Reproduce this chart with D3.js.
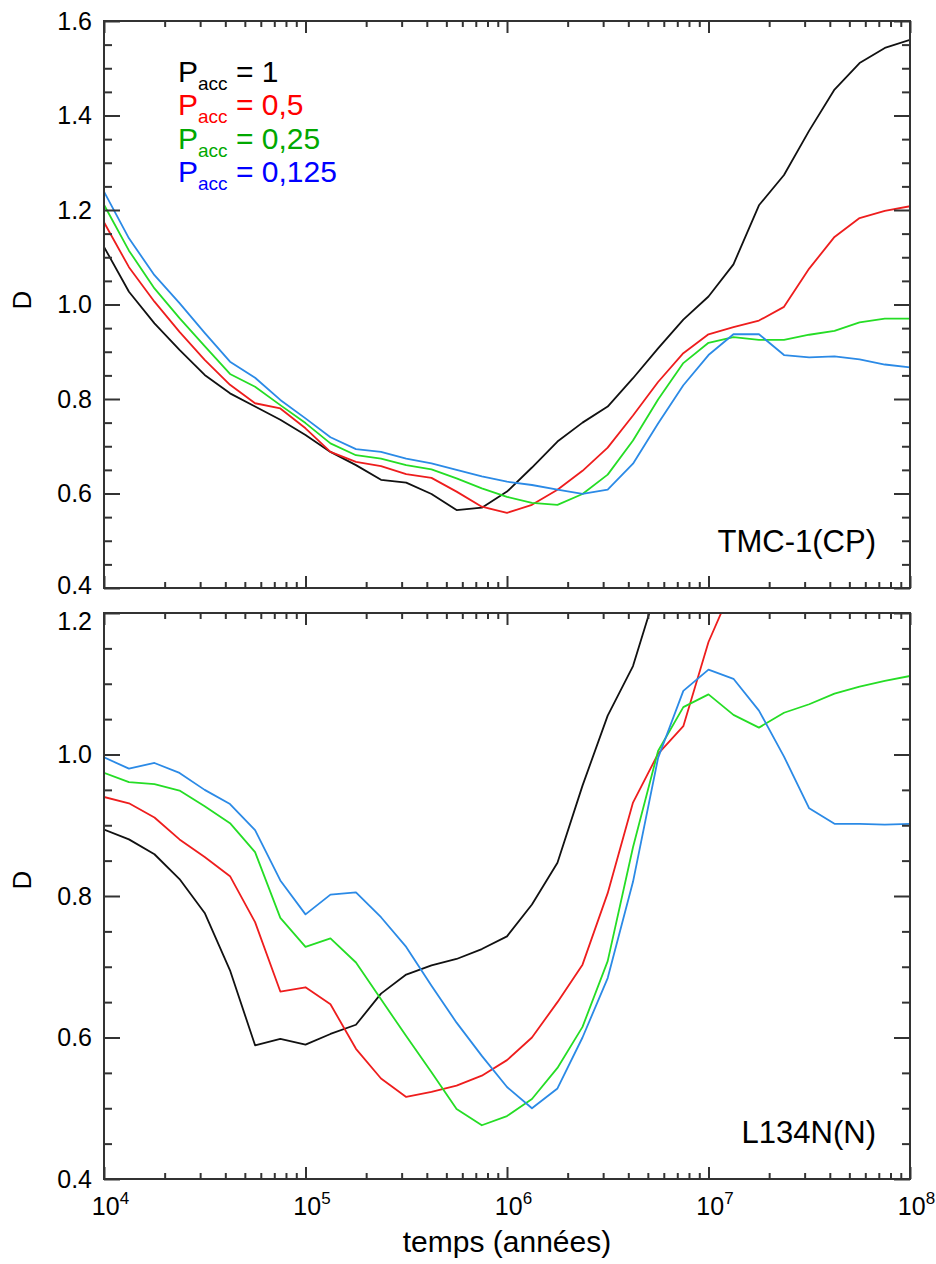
<!DOCTYPE html>
<html>
<head>
<meta charset="utf-8">
<script src="https://cdn.jsdelivr.net/npm/d3@7"></script>
<style>
  body { margin: 0; background: #fff; }
  text { font-family: "Liberation Sans", Arial, sans-serif; }
</style>
</head>
<body>
<script>
// time grid (years), 8 points per decade
var times = [1e4, 1.33e4, 1.78e4, 2.37e4, 3.16e4, 4.22e4, 5.62e4, 7.5e4,
             1e5, 1.33e5, 1.78e5, 2.37e5, 3.16e5, 4.22e5, 5.62e5, 7.5e5,
             1e6, 1.33e6, 1.78e6, 2.37e6, 3.16e6, 4.22e6, 5.62e6, 7.5e6,
             1e7, 1.33e7, 1.78e7, 2.37e7, 3.16e7, 4.22e7, 5.62e7, 7.5e7, 1e8];

// TMC-1(CP)
var tmcP1 = [1.122, 1.027, 0.960, 0.904, 0.851, 0.812, 0.784, 0.756, 0.724, 0.688, 0.660, 0.629, 0.623, 0.599, 0.565, 0.570,
             0.604, 0.655, 0.710, 0.750, 0.784, 0.844, 0.907, 0.968, 1.017, 1.085, 1.210, 1.274, 1.368, 1.455, 1.511, 1.543, 1.560];
var tmcP05 = [1.174, 1.079, 1.006, 0.942, 0.883, 0.830, 0.791, 0.780, 0.738, 0.688, 0.667, 0.658, 0.641, 0.633, 0.604, 0.572,
              0.559, 0.576, 0.608, 0.648, 0.697, 0.765, 0.836, 0.897, 0.937, 0.952, 0.966, 0.995, 1.076, 1.143, 1.183, 1.198, 1.208];
var tmcP025 = [1.211, 1.114, 1.034, 0.971, 0.912, 0.853, 0.826, 0.787, 0.749, 0.706, 0.681, 0.674, 0.660, 0.651, 0.632, 0.611,
               0.593, 0.580, 0.576, 0.599, 0.640, 0.712, 0.799, 0.876, 0.919, 0.931, 0.925, 0.925, 0.936, 0.944, 0.962, 0.970, 0.970];
var tmcP0125 = [1.239, 1.140, 1.062, 1.003, 0.940, 0.879, 0.845, 0.798, 0.759, 0.719, 0.694, 0.688, 0.674, 0.664, 0.650, 0.636,
                0.625, 0.618, 0.608, 0.599, 0.608, 0.663, 0.748, 0.829, 0.893, 0.937, 0.937, 0.893, 0.888, 0.890, 0.884, 0.873, 0.867];

// L134N(N)  (black and red leave the frame at the top)
var lP1 = [0.894, 0.880, 0.859, 0.824, 0.776, 0.695, 0.589, 0.598, 0.590, 0.605, 0.618, 0.662, 0.689, 0.702, 0.711, 0.725,
           0.743, 0.788, 0.847, 0.956, 1.055, 1.125, 1.240];
var lP05 = [0.940, 0.931, 0.911, 0.880, 0.855, 0.828, 0.763, 0.665, 0.671, 0.647, 0.584, 0.542, 0.516, 0.523, 0.532, 0.546,
            0.568, 0.600, 0.650, 0.703, 0.804, 0.932, 1.001, 1.040, 1.159, 1.240];
var lP025 = [0.974, 0.961, 0.958, 0.949, 0.927, 0.903, 0.862, 0.769, 0.728, 0.740, 0.706, 0.654, 0.602, 0.551, 0.499, 0.476,
             0.489, 0.513, 0.557, 0.615, 0.708, 0.869, 1.005, 1.067, 1.085, 1.056, 1.038, 1.059, 1.071, 1.086, 1.096, 1.104, 1.111];
var lP0125 = [0.996, 0.980, 0.988, 0.974, 0.950, 0.930, 0.893, 0.822, 0.774, 0.802, 0.805, 0.770, 0.728, 0.673, 0.621, 0.574,
              0.530, 0.500, 0.528, 0.600, 0.684, 0.820, 0.995, 1.090, 1.120, 1.107, 1.062, 0.997, 0.924, 0.902, 0.902, 0.901, 0.902];

var paccLabels = ["1", "0,5", "0,25", "0,125"];
var yTicksTop = [0.4, 0.6, 0.8, 1.0, 1.2, 1.4, 1.6];
var yTicksBottom = [0.4, 0.6, 0.8, 1.0, 1.2];
var xTicks = [1e4, 1e5, 1e6, 1e7, 1e8];
var panelNames = ["TMC-1(CP)", "L134N(N)"];

var lineColors = ["#111111", "#ee1d1d", "#25dd25", "#2b8ae6"];
var legendColors = ["#000000", "#ff0000", "#00a800", "#0000ff"];

var width = 936, height = 1264;
var left = 104, right = 910;

var svg = d3.select("body").append("svg")
    .attr("width", width)
    .attr("height", height);

var x = d3.scaleLog()
    .domain([1e4, 1e8])
    .range([left, right]);

var xMinor = x.ticks().filter(function (d) { return xTicks.indexOf(d) < 0; });

var panels = [
    { top: 21, bottom: 588, ticks: yTicksTop, series: [tmcP1, tmcP05, tmcP025, tmcP0125], name: panelNames[0], nameY: 552, dY: 300 },
    { top: 613, bottom: 1179, ticks: yTicksBottom, series: [lP1, lP05, lP025, lP0125], name: panelNames[1], nameY: 1143, dY: 880 }
];

panels.forEach(function (p, pi) {
    var y = d3.scaleLinear()
        .domain([p.ticks[0], p.ticks[p.ticks.length - 1]])
        .range([p.bottom, p.top]);
    var yMinor = d3.range(Math.round((y.domain()[1] - y.domain()[0]) / 0.05) + 1)
        .map(function (i) { return +(y.domain()[0] + i * 0.05).toFixed(2); })
        .filter(function (v) { return p.ticks.indexOf(v) < 0; });

    var g = svg.append("g");

    g.append("clipPath")
        .attr("id", "clip" + pi)
        .append("rect")
        .attr("x", left)
        .attr("y", p.top)
        .attr("width", right - left)
        .attr("height", p.bottom - p.top);

    var line = d3.line()
        .x(function (d, i) { return x(times[i]); })
        .y(function (d) { return y(d); });

    g.append("g")
        .attr("clip-path", "url(#clip" + pi + ")")
        .selectAll("path")
        .data(p.series)
        .enter().append("path")
        .attr("d", line)
        .attr("fill", "none")
        .attr("stroke", function (d, i) { return lineColors[i]; })
        .attr("stroke-width", 1.8)
        .attr("stroke-linejoin", "round");

    // ticks, inward on all four sides
    function styleAxis(sel) {
        sel.select(".domain").remove();
        sel.selectAll(".tick line").attr("stroke", "#333").attr("stroke-width", 2);
        sel.selectAll(".tick text").attr("font-size", 25).attr("fill", "#000")
            .style("font-family", "'Liberation Sans', Arial, sans-serif");
    }

    var yl = g.append("g")
        .attr("transform", "translate(" + left + ",0)")
        .call(d3.axisLeft(y).tickValues(p.ticks).tickSize(-16).tickPadding(12)
            .tickFormat(function (d) { return d.toFixed(1); }))
        .call(styleAxis);
    // keep the 0.4 / 1.2 labels at the panel join apart
    yl.selectAll(".tick text")
        .attr("dy", function (d) {
            if (pi === 0 && d === p.ticks[0]) return "0.2em";
            if (pi === 1 && d === p.ticks[p.ticks.length - 1]) return "0.65em";
            return "0.32em";
        });
    g.append("g")
        .attr("transform", "translate(" + left + ",0)")
        .call(d3.axisLeft(y).tickValues(yMinor).tickSize(-8).tickFormat(""))
        .call(styleAxis);
    g.append("g")
        .attr("transform", "translate(" + right + ",0)")
        .call(d3.axisRight(y).tickValues(p.ticks).tickSize(-16).tickFormat(""))
        .call(styleAxis);
    g.append("g")
        .attr("transform", "translate(" + right + ",0)")
        .call(d3.axisRight(y).tickValues(yMinor).tickSize(-8).tickFormat(""))
        .call(styleAxis);

    g.append("g")
        .attr("transform", "translate(0," + p.top + ")")
        .call(d3.axisTop(x).tickValues(xTicks).tickSize(-12).tickFormat(""))
        .call(styleAxis);
    g.append("g")
        .attr("transform", "translate(0," + p.top + ")")
        .call(d3.axisTop(x).tickValues(xMinor).tickSize(-6).tickFormat(""))
        .call(styleAxis);
    var xb = g.append("g")
        .attr("transform", "translate(0," + p.bottom + ")")
        .call(d3.axisBottom(x).tickValues(xTicks).tickSize(-12).tickPadding(18)
            .tickFormat(function (d) { return pi === 1 ? "10" : ""; }))
        .call(styleAxis);
    g.append("g")
        .attr("transform", "translate(0," + p.bottom + ")")
        .call(d3.axisBottom(x).tickValues(xMinor).tickSize(-6).tickFormat(""))
        .call(styleAxis);

    if (pi === 1) {
        xb.selectAll(".tick text")
            .attr("dx", 6)
            .append("tspan")
            .attr("dy", -11)
            .attr("font-size", 17)
            .text(function (d) { return Math.round(Math.log10(d)); });
    }

    g.append("rect")
        .attr("x", left)
        .attr("y", p.top)
        .attr("width", right - left)
        .attr("height", p.bottom - p.top)
        .attr("fill", "none")
        .attr("stroke", "#333")
        .attr("stroke-width", 2);

    g.append("text")
        .attr("x", 876)
        .attr("y", p.nameY)
        .attr("text-anchor", "end")
        .attr("font-size", 31)
        .text(p.name);

    g.append("text")
        .attr("transform", "translate(31," + p.dY + ") rotate(-90)")
        .attr("text-anchor", "middle")
        .attr("font-size", 26)
        .text("D");
});

// legend
var legend = svg.append("g")
    .selectAll("text")
    .data(paccLabels)
    .enter().append("text")
    .attr("x", 178)
    .attr("y", function (d, i) { return 82 + i * 33.3; })
    .attr("font-size", 30)
    .attr("fill", function (d, i) { return legendColors[i]; });
legend.append("tspan").text("P");
legend.append("tspan").attr("font-size", 19).attr("dy", 8).text("acc");
legend.append("tspan").attr("dy", -8).text(function (d) { return " = " + d; });

svg.append("text")
    .attr("x", (left + right) / 2)
    .attr("y", 1252)
    .attr("text-anchor", "middle")
    .attr("font-size", 30)
    .text("temps (années)");
</script>
</body>
</html>
